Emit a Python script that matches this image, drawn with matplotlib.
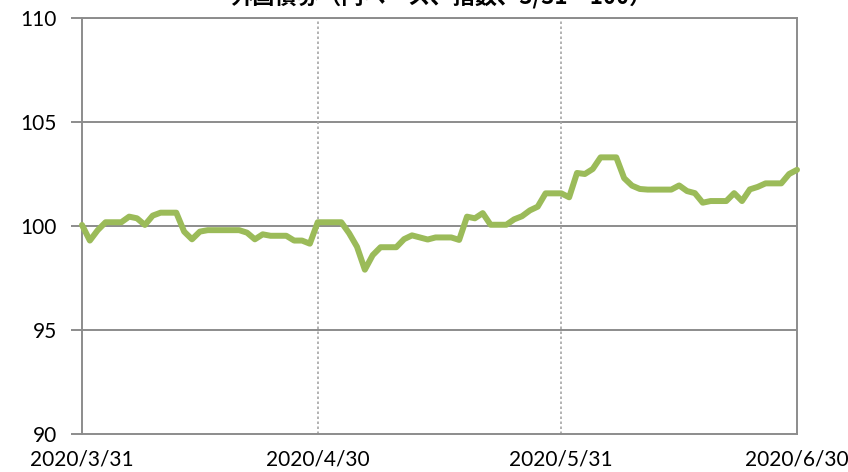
import matplotlib
matplotlib.use("Agg")
import matplotlib.pyplot as plt
import matplotlib.dates as mdates
import numpy as np
import pandas as pd

# ---- data (daily, weekends carried forward) ----
start_date = "2020-03-31"
end_date = "2020-06-30"
values = [
    100.05,                                   # 3/31
    99.3, 99.8, 100.18, 100.18, 100.18, 100.45, 100.37, 100.05, 100.5, 100.64,   # 4/1-4/10
    100.64, 100.64, 99.73, 99.36, 99.73, 99.8, 99.8, 99.8, 99.8, 99.8,           # 4/11-4/20
    99.68, 99.36, 99.6, 99.53, 99.53, 99.53, 99.3, 99.3, 99.15, 100.18,          # 4/21-4/30
    100.18, 100.18, 100.18, 99.65, 99.0, 97.9, 98.6, 98.98, 98.98, 98.98,        # 5/1-5/10
    99.37, 99.55, 99.45, 99.35, 99.45, 99.45, 99.45, 99.33, 100.45, 100.37,      # 5/11-5/20
    100.62, 100.06, 100.06, 100.06, 100.32, 100.47, 100.75, 100.93, 101.57, 101.57,  # 5/21-5/30
    101.57,                                   # 5/31
    101.38, 102.55, 102.5, 102.74, 103.3, 103.3, 103.3, 102.3, 101.94, 101.78,   # 6/1-6/10
    101.75, 101.75, 101.75, 101.75, 101.95, 101.68, 101.58, 101.12, 101.2, 101.2,  # 6/11-6/20
    101.2, 101.58, 101.2, 101.76, 101.88, 102.05, 102.05, 102.05, 102.5, 102.7,  # 6/21-6/30
]
xtick_dates = ["2020-03-31", "2020-04-30", "2020-05-31", "2020-06-30"]
xtick_labels = ["2020/3/31", "2020/4/30", "2020/5/31", "2020/6/30"]
yticks = [90, 95, 100, 105, 110]
title = "外国債券（円ベース、指数、3/31＝100）"

dates = pd.date_range(start_date, end_date, freq="D")

plt.rcParams['font.family'] = ['Lato', 'Noto Sans CJK JP', 'DejaVu Sans']

fig = plt.figure(figsize=(8.48, 4.72), dpi=100)
ax = fig.add_axes([82/848, 1 - 434/472, (797-82)/848, (434-18)/472])

grid_col = "#8c8c8c"
ax.plot(dates, values, color="#9BBB59", lw=4.3, solid_joinstyle="round",
        solid_capstyle="round", zorder=3, clip_on=False)

ax.set_ylim(90, 110)
ax.set_yticks(yticks)
xd = pd.to_datetime(xtick_dates)
ax.set_xlim(xd[0], xd[-1])
ax.set_xticks(xd)
ax.set_xticklabels(xtick_labels)

for y in yticks[1:]:
    ax.axhline(y, color=grid_col, lw=1.4, zorder=1)
for d in xd[1:-1]:
    ax.axvline(d, color="#a6a6a6", lw=1.2, ls=(0, (1.5, 1.5)), zorder=1)

for s in ax.spines.values():
    s.set_color(grid_col)
    s.set_linewidth(1.4)

ax.tick_params(axis="y", length=8, width=1.4, color=grid_col, labelsize=15, pad=10)
ax.tick_params(axis="x", length=0, labelsize=15, pad=11)

fig.text(0.521, 1 - 9/472, title, ha="center", va="bottom", fontsize=16,
         fontweight="bold", family=['Noto Sans CJK JP', 'DejaVu Sans'])

fig.savefig("out.png", dpi=100)
